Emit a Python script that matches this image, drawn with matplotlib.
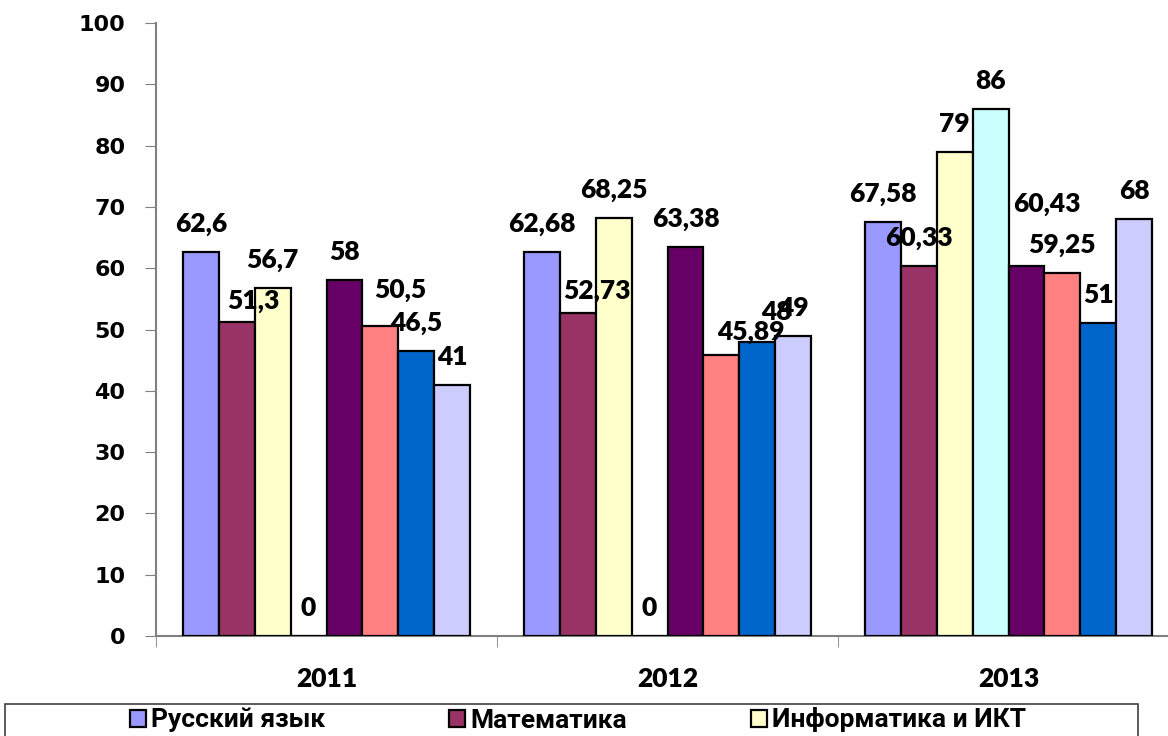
import matplotlib
matplotlib.use("Agg")
import matplotlib.pyplot as plt
from matplotlib.patches import Rectangle, Patch

# --- Dados ---
years = ["2011", "2012", "2013"]
legend_names = ["Русский язык", "Математика", "Информатика и ИКТ"]

s1 = [62.6, 62.68, 67.58]
s2 = [51.3, 52.73, 60.33]
s3 = [56.7, 68.25, 79]
s4 = [0, 0, 86]
s5 = [58, 63.38, 60.43]
s6 = [50.5, 45.89, 59.25]
s7 = [46.5, 48, 51]
s8 = [41, 49, 68]
series = [s1, s2, s3, s4, s5, s6, s7, s8]

colors = ["#9999FF", "#993366", "#FFFFCC", "#CCFFFF",
          "#660066", "#FF8080", "#0066CC", "#CCCCFF"]

# labels moved by hand in the original (pixels): (series, year) -> (dx, dy)
label_shift = {
    (1, 0): (17, -7),
    (5, 0): (20, 8),
    (1, 1): (19, -6),
    (5, 1): (30, -5),
    (6, 1): (19, 2),
    (4, 2): (20, 34),
}

label_font = ["Lato", "DejaVu Sans"]

fig = plt.figure(figsize=(11.68, 7.36), dpi=100)
ax = fig.add_axes([156 / 1168, 100 / 736, 1023 / 1168, 613 / 736])

n = len(series)
w = 1 / 9.5
for i, vals in enumerate(series):
    xs = [g + (i - (n - 1) / 2) * w for g in range(len(years))]
    ax.bar(xs, vals, width=w, color=colors[i], edgecolor="black", linewidth=1.6, zorder=3)
    for g, (x, v) in enumerate(zip(xs, vals)):
        dx, dy = label_shift.get((i, g), (0, 0))
        txt = f"{v:g}".replace(".", ",")
        ax.annotate(txt, (x, v), xytext=(dx, 28 + dy), textcoords="offset pixels",
                    ha="center", va="center", fontsize=19, fontweight="heavy",
                    family=label_font, zorder=5)

ax.set_xlim(-0.5, 2.5)
ax.set_ylim(0, 100)
ax.set_yticks(range(0, 101, 10))
ax.set_xticks(range(len(years)))
ax.set_xticklabels(years, fontsize=19, fontweight="heavy", family=label_font)
ax.set_xticks([-0.5, 0.5, 1.5, 2.5], minor=True)
ax.tick_params(axis="x", which="major", length=0, pad=22)
ax.tick_params(axis="x", which="minor", length=8, color="#808080", direction="out")
ax.tick_params(axis="y", length=8, color="#808080", pad=14, labelsize=16)
for lab in ax.get_yticklabels():
    lab.set_fontweight("bold")
    lab.set_family("DejaVu Sans")

for side in ["top", "right"]:
    ax.spines[side].set_visible(False)
for side in ["left", "bottom"]:
    ax.spines[side].set_color("#808080")
    ax.spines[side].set_linewidth(1.5)

# --- Legenda (cortada embaixo, como no original) ---
fig.patches.append(Rectangle((5 / 1168, -0.05), 1133 / 1168, (736 - 704) / 736 + 0.05,
                             transform=fig.transFigure, fill=False,
                             edgecolor="#404040", linewidth=1.2))
handles = [Patch(facecolor=colors[i], edgecolor="black", linewidth=1.6) for i in range(3)]
leg = fig.legend(handles, legend_names, loc="center left",
                 bbox_to_anchor=(130 / 1168, 1 - 720 / 736), ncol=3, frameon=False,
                 handlelength=0.6, handleheight=0.6, handletextpad=0.2,
                 columnspacing=4.7, borderaxespad=0, borderpad=0,
                 prop={"family": ["Roboto", "DejaVu Sans"],
                       "weight": "bold", "size": 19})

fig.savefig("out.png", dpi=100)
